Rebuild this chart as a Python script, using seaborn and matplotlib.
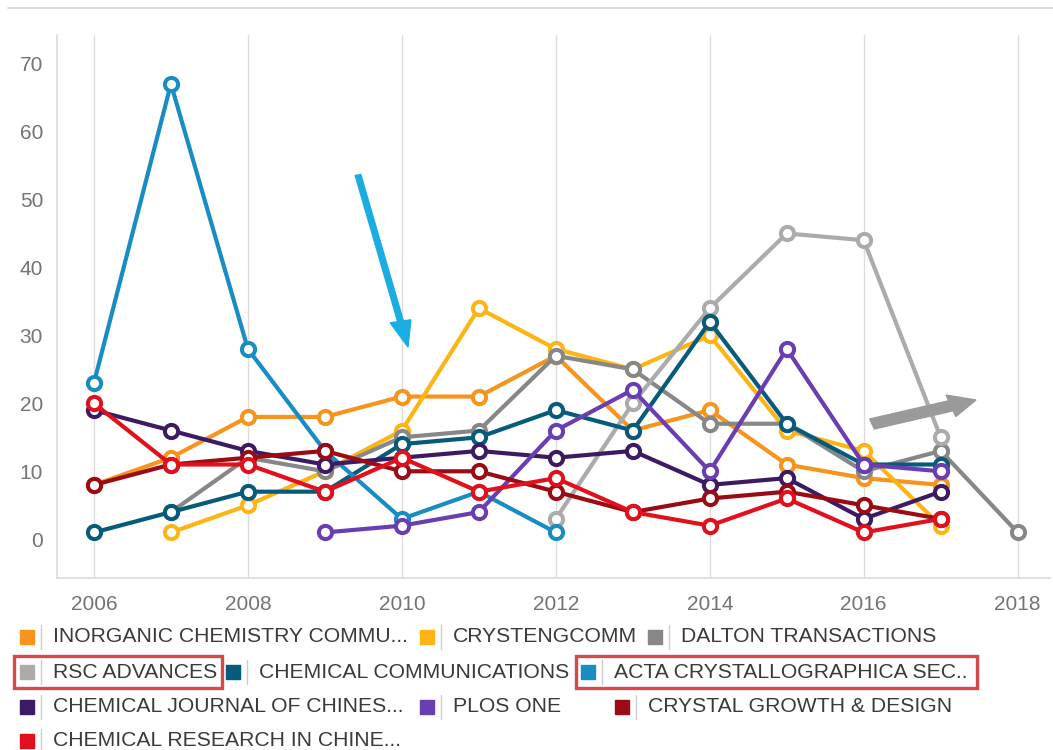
import numpy as np
import pandas as pd
import matplotlib
matplotlib.use('Agg')
import matplotlib.pyplot as plt
import seaborn as sns
from matplotlib.patches import Rectangle, FancyArrow
from matplotlib.lines import Line2D

# datos (publicaciones por anio)
years = list(range(2006, 2019))
journals = ['INORGANIC CHEMISTRY COMMU...', 'CRYSTENGCOMM', 'DALTON TRANSACTIONS',
            'RSC ADVANCES', 'CHEMICAL COMMUNICATIONS', 'ACTA CRYSTALLOGRAPHICA SEC..',
            'CHEMICAL JOURNAL OF CHINES...', 'PLOS ONE', 'CRYSTAL GROWTH & DESIGN',
            'CHEMICAL RESEARCH IN CHINE...']
colors = ['#F7941E', '#FDB515', '#878787', '#ABABAB', '#065B7C', '#1A8CC4',
          '#3C1B63', '#6A3EB2', '#9A0B14', '#E0111C']

inorganic = [8, 12, 18, 18, 21, 21, 27, 16, 19, 11, 9, 8, None]
crystengcomm = [None, 1, 5, 10, 16, 34, 28, 25, 30, 16, 13, 2, None]
dalton = [None, 4, 12, 10, 15, 16, 27, 25, 17, 17, 10, 13, 1]
rsc = [None, None, None, None, None, None, 3, 20, 34, 45, 44, 15, None]
chemcomm = [1, 4, 7, 7, 14, 15, 19, 16, 32, 17, 11, 11, None]
acta = [23, 67, 28, 13, 3, 7, 1, None, None, None, None, None, None]
cjcu = [19, 16, 13, 11, 12, 13, 12, 13, 8, 9, 3, 7, None]
plos = [None, None, None, 1, 2, 4, 16, 22, 10, 28, 11, 10, None]
cgd = [8, 11, 12, 13, 10, 10, 7, 4, 6, 7, 5, 3, None]
cri = [20, 11, 11, 7, 12, 7, 9, 4, 2, 6, 1, 3, None]

all_values = [inorganic, crystengcomm, dalton, rsc, chemcomm, acta, cjcu, plos, cgd, cri]

rows = []
for name, vals in zip(journals, all_values):
    for y, v in zip(years, vals):
        if v is not None:
            rows.append({'journal': name, 'year': y, 'count': v})
df = pd.DataFrame(rows)

sns.set_style('white')
plt.rcParams['font.family'] = ['Liberation Sans', 'DejaVu Sans']

fig = plt.figure(figsize=(10.53, 7.5), dpi=100)
W, H = 1053, 750
ax = fig.add_axes([57 / W, 1 - 578 / H, 993 / W, 543 / H])

for i, (name, c) in enumerate(zip(journals, colors)):
    sns.lineplot(data=df[df['journal'] == name], x='year', y='count', ax=ax,
                 color=c, linewidth=3, marker='o', markersize=9.5,
                 markerfacecolor='white', markeredgecolor=c, markeredgewidth=2.9,
                 errorbar=None, legend=False, zorder=3 + i)

ax.set_xlim(2005.52, 2018.42)
ax.set_ylim(-5.7, 74.2)
ax.set_xticks(range(2006, 2019, 2))
ax.set_yticks(range(0, 71, 10))
ax.set_xlabel('')
ax.set_ylabel('')
ax.grid(axis='x', color='#dcdcdc', linewidth=1)
ax.grid(axis='y', visible=False)
for s in ['top', 'right']:
    ax.spines[s].set_visible(False)
ax.spines['left'].set_color('#dcdcdc')
ax.spines['bottom'].set_color('#dcdcdc')
ax.spines['left'].set_linewidth(1.2)
ax.spines['bottom'].set_linewidth(1.2)
ax.tick_params(axis='x', length=0, pad=12, labelsize=15, labelcolor='#747474')
ax.tick_params(axis='y', length=4, color='#dcdcdc', pad=6, labelsize=15, labelcolor='#747474')

# linea superior de la captura
fig.add_artist(Line2D([8 / W, 1.0], [1 - 8 / H, 1 - 8 / H], color='#d0d0d0', lw=1.2))

# leyenda manual (disposicion en flujo como en la web)
leg_text_x = [53, 453, 681, 53, 259, 614, 53, 453, 648, 53]
leg_row = [0, 0, 0, 1, 1, 1, 2, 2, 2, 3]
row_y = [637, 672, 707, 741]
for name, c, tx, r in zip(journals, colors, leg_text_x, leg_row):
    yc = row_y[r]
    fig.add_artist(Rectangle(((tx - 33) / W, 1 - (yc + 7) / H), 14 / W, 14 / H,
                             color=c, transform=fig.transFigure))
    fig.add_artist(Line2D([(tx - 12) / W] * 2, [1 - (yc - 12) / H, 1 - (yc + 12) / H],
                          color='#cccccc', lw=1))
    fig.text(tx / W, 1 - yc / H, name, fontsize=15.2, color='#3a3a3a',
             ha='left', va='center')

# recuadros rojos de resaltado
for x0, x1 in [(14, 222), (576, 977)]:
    fig.add_artist(Rectangle((x0 / W, 1 - 688 / H), (x1 - x0) / W, 32 / H,
                             fill=False, edgecolor='#D94848', lw=2.4,
                             transform=fig.transFigure))

# flechas de anotacion
fig.add_artist(FancyArrow(358 / W, 1 - 175 / H, 50 / W, -172 / H, width=0.0055,
                          head_width=0.02, head_length=0.035,
                          length_includes_head=True, color='#1AADE4',
                          transform=fig.transFigure))
fig.add_artist(FancyArrow(872 / W, 1 - 424 / H, 104 / W, 24 / H, width=0.014,
                          head_width=0.03, head_length=0.025,
                          length_includes_head=True, color='#9a9a9a',
                          transform=fig.transFigure))

fig.savefig('out.png', dpi=100)
